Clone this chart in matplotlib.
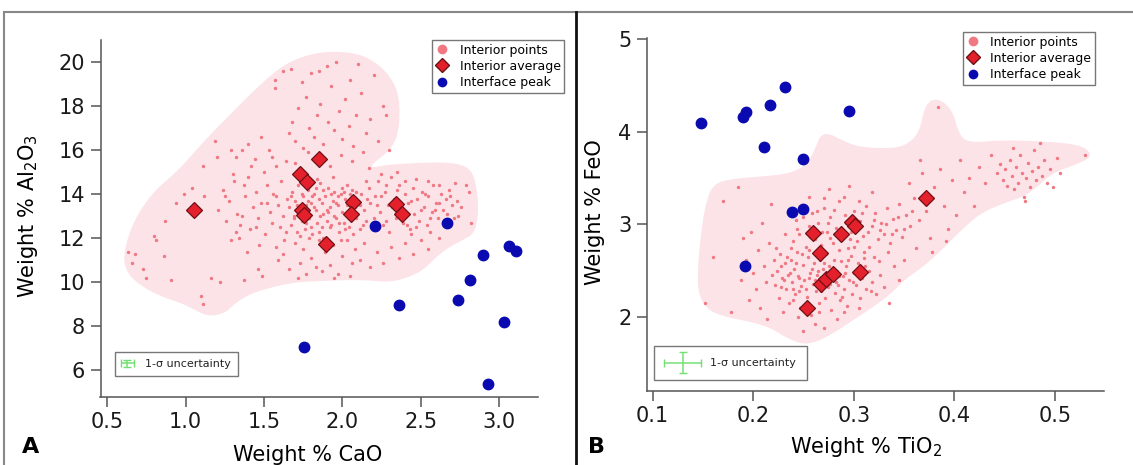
import numpy as np
import matplotlib
matplotlib.use('Agg')
import matplotlib.pyplot as plt
from matplotlib.lines import Line2D
from matplotlib.patches import Rectangle, Polygon

plt.rcParams['font.family'] = ['DejaVu Sans']
plt.rcParams['mathtext.default'] = 'regular'

# ---- Panel A: CaO vs Al2O3 ----
interior_a = [
    (0.63, 11.4), (0.66, 10.9), (0.68, 11.3), (0.73, 10.6), (0.75, 10.2), (0.80, 12.1), (0.81, 11.9),
    (0.86, 11.2), (0.87, 12.8), (0.91, 10.1), (0.94, 13.6), (0.99, 14.0), (1.04, 14.3), (1.11, 15.3),
    (1.12, 13.9), (1.10, 9.4), (1.11, 9.0), (1.16, 10.2), (1.19, 16.4), (1.20, 15.7), (1.22, 10.0),
    (1.29, 16.0), (1.32, 15.7), (1.36, 16.0), (1.37, 10.1), (1.29, 11.9), (1.32, 12.3), (1.34, 12.0),
    (1.37, 14.4), (1.40, 16.3), (1.42, 15.3), (1.48, 16.6), (1.46, 10.6), (1.49, 10.3), (1.57, 19.2),
    (1.57, 18.8), (1.62, 19.6), (1.58, 11.6), (1.59, 11.0), (1.53, 16.0), (1.55, 15.7),
    (1.21, 13.3), (1.24, 14.2), (1.26, 12.8), (1.28, 13.7), (1.31, 14.6), (1.33, 13.1), (1.35, 12.6),
    (1.38, 13.9), (1.40, 14.8), (1.41, 12.4), (1.43, 13.4), (1.45, 14.1), (1.46, 12.9), (1.48, 13.6),
    (1.50, 15.0), (1.51, 12.2), (1.52, 14.4), (1.54, 13.2), (1.55, 12.7), (1.56, 14.0), (1.58, 15.3),
    (1.59, 13.5), (1.60, 12.5), (1.61, 14.6), (1.62, 13.0), (1.63, 11.9), (1.64, 15.5), (1.65, 13.8),
    (1.47, 11.7), (1.39, 11.4), (1.30, 14.9), (1.44, 15.6), (1.36, 13.0), (1.25, 13.9),
    (1.66, 16.8), (1.68, 17.3), (1.70, 16.4), (1.72, 17.9), (1.74, 19.1), (1.75, 16.1), (1.77, 18.4),
    (1.79, 17.0), (1.80, 19.5), (1.82, 16.6), (1.84, 17.6), (1.86, 18.1), (1.88, 16.3), (1.90, 19.8),
    (1.91, 17.3), (1.93, 18.9), (1.95, 16.9), (1.96, 20.0), (1.98, 17.8), (2.00, 16.5), (2.02, 18.3),
    (2.04, 17.1), (2.05, 19.2), (2.07, 16.2), (2.09, 17.6), (2.12, 18.6), (2.15, 16.8), (2.18, 17.4),
    (2.20, 19.4), (2.23, 16.4), (2.26, 18.0), (2.28, 17.6), (2.30, 16.0), (1.70, 15.4), (1.78, 15.9),
    (1.92, 15.3), (1.99, 15.8), (2.06, 15.5), (2.13, 15.9), (2.17, 15.2), (1.67, 19.7), (1.85, 19.6),
    (2.10, 19.9),
    (1.66, 13.4), (1.67, 12.6), (1.68, 14.1), (1.69, 13.0), (1.70, 13.7), (1.71, 12.3), (1.72, 14.4),
    (1.73, 13.2), (1.74, 12.8), (1.75, 13.9), (1.76, 12.4), (1.77, 13.5), (1.78, 14.2), (1.79, 12.9),
    (1.80, 13.6), (1.81, 12.2), (1.82, 14.0), (1.83, 13.3), (1.84, 12.7), (1.85, 13.8), (1.86, 14.5),
    (1.87, 12.5), (1.88, 13.1), (1.89, 13.9), (1.90, 12.8), (1.91, 14.3), (1.92, 13.4), (1.93, 12.6),
    (1.94, 13.7), (1.95, 14.1), (1.96, 12.9), (1.97, 13.5), (1.98, 12.3), (1.99, 14.0), (2.00, 13.2),
    (2.01, 12.7), (2.02, 13.8), (2.03, 14.4), (2.04, 12.5), (2.05, 13.0), (2.06, 14.2), (2.07, 12.2),
    (2.08, 13.4), (2.09, 12.9), (2.10, 13.7), (1.71, 13.5), (1.76, 13.1), (1.81, 13.9), (1.86, 13.0),
    (1.91, 13.2), (1.96, 13.6), (2.01, 14.1), (1.84, 14.7), (1.94, 14.8), (1.79, 12.0),
    (2.11, 12.4), (2.12, 14.0), (2.14, 13.3), (2.15, 12.8), (2.17, 14.3), (2.18, 13.6), (2.20, 12.9),
    (2.21, 13.9), (2.23, 14.6), (2.24, 13.2), (2.26, 12.6), (2.27, 14.1), (2.29, 13.5), (2.30, 12.3),
    (2.31, 14.8), (2.33, 13.8), (2.34, 12.9), (2.36, 14.4), (2.37, 13.3), (2.39, 12.7), (2.40, 14.0),
    (2.42, 13.6), (2.43, 12.4), (2.45, 14.3), (2.46, 13.1), (2.48, 13.8), (2.49, 12.8), (2.51, 14.1),
    (2.52, 13.4), (2.54, 12.6), (2.55, 13.9), (2.57, 13.2), (2.58, 14.4), (2.60, 13.6), (2.61, 12.9),
    (2.63, 14.0), (2.64, 13.3), (2.66, 13.8), (2.68, 14.2), (2.70, 13.5), (2.72, 14.5), (2.74, 13.0),
    (2.79, 14.4), (2.81, 14.1), (2.82, 12.7), (2.25, 14.9), (2.35, 15.0), (2.47, 14.7), (2.56, 12.3),
    (2.44, 12.2),
    (1.62, 11.3), (1.66, 10.6), (1.70, 11.8), (1.73, 10.9), (1.75, 11.5), (1.77, 10.4), (1.80, 11.1),
    (1.83, 10.7), (1.85, 11.9), (1.87, 10.5), (1.89, 11.4), (1.92, 10.8), (1.94, 11.7), (1.97, 10.4),
    (2.00, 11.2), (2.03, 11.9), (2.06, 10.9), (2.08, 11.5), (2.11, 11.0), (2.14, 11.8), (2.18, 10.7),
    (2.22, 11.4), (2.26, 10.9), (2.31, 11.6), (2.36, 11.1), (2.40, 11.8), (2.45, 11.3), (2.50, 11.9),
    (2.55, 11.5), (2.62, 12.0), (2.05, 10.3), (1.95, 10.2), (1.72, 10.2),
    (1.67, 13.9), (1.69, 12.9), (1.72, 13.3), (1.74, 14.0), (1.77, 12.7), (1.78, 13.7), (1.80, 12.5),
    (1.82, 13.4), (1.83, 14.3), (1.85, 12.3), (1.87, 13.6), (1.88, 14.2), (1.90, 13.3), (1.92, 12.5),
    (1.93, 14.0), (1.95, 13.0), (1.97, 13.9), (1.98, 12.7), (2.00, 14.3), (2.02, 12.4), (2.03, 13.5),
    (2.05, 14.0), (2.07, 13.2), (2.09, 14.1), (2.11, 13.5), (2.13, 12.6), (2.16, 13.8), (2.19, 12.5),
    (2.22, 13.5), (2.25, 13.9), (2.28, 12.8), (2.32, 13.4), (2.35, 14.2), (2.38, 13.0), (2.41, 12.6),
    (2.44, 13.7), (2.47, 12.5), (2.50, 13.3), (2.53, 14.0), (2.56, 12.9), (2.59, 13.3), (2.62, 13.6),
    (2.65, 12.8), (2.67, 13.1), (2.69, 13.9), (2.71, 12.9), (2.73, 13.7), (2.76, 13.4), (2.62, 14.4),
    (2.55, 14.6), (2.40, 14.6), (2.28, 14.4), (2.15, 14.6), (1.73, 12.1), (1.88, 12.0), (1.99, 11.9),
    (1.64, 12.3), (1.58, 13.9), (1.52, 13.6), (1.45, 12.5),
]
avg_cao = [1.055, 1.854, 1.733, 1.772, 1.740, 1.756, 1.898, 2.067, 2.058, 2.346, 2.383]
avg_al2o3 = [13.30, 15.58, 14.94, 14.56, 13.30, 13.05, 11.74, 13.64, 13.08, 13.55, 13.12]
peak_cao = [2.211, 2.666, 3.063, 3.107, 2.898, 2.817, 2.738, 2.364, 3.035, 1.754, 2.929]
peak_al2o3 = [12.56, 12.68, 11.65, 11.42, 11.26, 10.09, 9.18, 8.98, 8.18, 7.05, 5.39]
# outline of the interior field
field_a = [
    (0.600, 11.2), (0.625, 10.42), (0.72, 9.81), (0.847, 9.35), (0.975, 9.05), (1.06, 8.75),
    (1.145, 8.45), (1.252, 8.6), (1.315, 9.05), (1.42, 9.51), (1.571, 9.81), (1.699, 10.0),
    (1.837, 10.05), (1.986, 10.1), (2.156, 10.1), (2.305, 10.0), (2.433, 10.26), (2.518, 10.57),
    (2.603, 11.17), (2.688, 11.63), (2.774, 11.93), (2.845, 12.24), (2.870, 13.15), (2.860, 14.2),
    (2.835, 14.96), (2.774, 15.34), (2.646, 15.45), (2.476, 15.42), (2.284, 15.34), (2.178, 15.19),
    (2.199, 15.42), (2.284, 15.87), (2.348, 16.48), (2.369, 17.54), (2.358, 18.6), (2.305, 19.35),
    (2.22, 19.96), (2.093, 20.42), (1.879, 20.49), (1.70, 20.15), (1.571, 19.58), (1.421, 18.6),
    (1.273, 17.54), (1.110, 16.35), (0.950, 15.05), (0.790, 14.10), (0.660, 12.70),
]
sigma_a = (0.628, 6.33, 0.043, 0.15)  # x, y, xerr, yerr

# ---- Panel B: TiO2 vs FeO ----
interior_b = [
    (0.152, 2.15), (0.160, 2.65), (0.170, 3.25), (0.178, 2.05), (0.185, 3.40), (0.188, 2.40),
    (0.190, 2.85), (0.193, 2.62), (0.196, 2.18), (0.198, 2.92), (0.200, 2.48), (0.203, 2.30),
    (0.205, 2.72), (0.207, 2.10), (0.209, 3.02), (0.211, 2.55), (0.213, 2.38), (0.214, 1.98),
    (0.216, 2.80), (0.218, 3.22), (0.219, 2.45), (0.221, 2.62),
    (0.222, 2.35), (0.224, 2.50), (0.226, 2.20), (0.227, 2.68), (0.229, 2.42), (0.230, 2.05),
    (0.232, 2.58), (0.233, 2.30), (0.235, 2.45), (0.236, 2.15), (0.238, 2.62), (0.239, 2.38),
    (0.241, 2.52), (0.242, 2.25), (0.244, 2.70), (0.245, 2.44), (0.247, 2.10), (0.248, 2.33),
    (0.250, 2.56), (0.251, 2.40), (0.253, 2.22), (0.254, 2.65), (0.256, 2.48), (0.257, 2.02),
    (0.259, 2.36), (0.260, 2.58), (0.262, 2.28), (0.263, 2.45), (0.265, 2.15), (0.266, 2.62),
    (0.268, 2.38), (0.269, 2.52), (0.271, 2.20), (0.272, 2.68), (0.274, 2.32), (0.275, 2.55),
    (0.277, 2.08), (0.278, 2.42), (0.280, 2.62), (0.281, 2.26), (0.283, 2.50), (0.284, 2.35),
    (0.286, 2.18), (0.287, 2.60), (0.289, 2.44), (0.290, 2.30), (0.292, 2.55), (0.293, 2.12),
    (0.295, 2.40), (0.297, 2.66), (0.298, 2.25), (0.300, 2.48), (0.302, 2.35), (0.304, 2.58),
    (0.306, 2.20), (0.308, 2.42), (0.310, 2.64), (0.312, 2.30), (0.315, 2.50), (0.318, 2.38),
    (0.322, 2.25), (0.326, 2.45), (0.330, 2.32), (0.228, 2.32), (0.237, 2.48), (0.246, 2.28),
    (0.255, 2.42), (0.264, 2.50), (0.273, 2.45), (0.282, 2.38), (0.291, 2.48), (0.261, 1.92),
    (0.270, 1.88), (0.283, 1.98), (0.250, 1.85),
    (0.240, 2.82), (0.243, 3.05), (0.246, 2.90), (0.249, 3.20), (0.252, 2.76), (0.255, 2.98),
    (0.258, 3.12), (0.261, 2.84), (0.264, 3.02), (0.267, 2.78), (0.270, 3.18), (0.273, 2.92),
    (0.276, 3.08), (0.279, 2.80), (0.282, 2.96), (0.285, 3.25), (0.288, 2.86), (0.291, 3.10),
    (0.294, 2.74), (0.297, 2.92), (0.300, 3.15), (0.303, 2.82), (0.306, 3.04), (0.309, 2.88),
    (0.312, 3.20), (0.315, 2.76), (0.318, 2.98), (0.321, 3.12), (0.324, 2.84), (0.327, 3.02),
    (0.330, 2.90), (0.333, 3.18), (0.336, 2.80), (0.339, 3.06), (0.342, 2.94), (0.345, 3.22),
    (0.348, 2.86), (0.352, 3.10), (0.356, 2.98), (0.360, 3.28), (0.365, 3.05), (0.255, 3.30),
    (0.275, 3.38), (0.295, 3.42), (0.318, 3.35), (0.262, 2.70), (0.285, 2.72), (0.310, 2.70),
    (0.334, 2.70), (0.340, 2.55), (0.345, 2.40), (0.335, 2.15), (0.350, 2.62), (0.325, 2.60),
    (0.355, 3.45), (0.362, 2.75), (0.368, 3.55), (0.372, 3.15), (0.376, 2.85), (0.380, 3.40),
    (0.384, 4.27), (0.386, 3.60), (0.390, 3.20), (0.394, 2.95), (0.398, 3.48), (0.402, 3.10),
    (0.406, 3.70), (0.410, 3.35), (0.415, 3.50), (0.420, 3.20), (0.425, 3.62), (0.430, 3.45),
    (0.436, 3.75), (0.366, 3.70), (0.378, 2.70), (0.392, 2.82),
    (0.442, 3.55), (0.445, 3.65), (0.448, 3.48), (0.450, 3.60), (0.452, 3.42), (0.455, 3.70),
    (0.457, 3.52), (0.459, 3.38), (0.461, 3.62), (0.463, 3.45), (0.465, 3.75), (0.467, 3.55),
    (0.469, 3.30), (0.471, 3.50), (0.473, 3.66), (0.475, 3.40), (0.477, 3.58), (0.479, 3.80),
    (0.481, 3.48), (0.483, 3.62), (0.485, 3.88), (0.487, 3.52), (0.489, 3.70), (0.492, 3.45),
    (0.495, 3.60), (0.498, 3.40), (0.502, 3.72), (0.505, 3.55), (0.530, 3.75), (0.470, 3.25),
    (0.458, 3.82),
    (0.228, 2.55), (0.231, 2.40), (0.234, 2.65), (0.240, 2.30), (0.243, 2.58), (0.246, 2.42),
    (0.249, 2.68), (0.252, 2.30), (0.258, 2.52), (0.261, 2.40), (0.267, 2.28), (0.270, 2.58),
    (0.276, 2.36), (0.279, 2.52), (0.285, 2.44), (0.288, 2.22), (0.294, 2.62), (0.299, 2.38),
    (0.305, 2.46), (0.311, 2.55), (0.317, 2.28), (0.244, 2.95), (0.250, 3.08), (0.256, 2.86),
    (0.263, 3.14), (0.268, 2.92), (0.274, 3.02), (0.280, 3.16), (0.286, 2.95), (0.292, 3.02),
    (0.296, 2.84), (0.302, 2.96), (0.308, 3.12), (0.314, 2.92), (0.320, 3.05), (0.326, 2.94),
    (0.332, 3.00), (0.338, 2.90), (0.344, 3.08), (0.350, 2.95), (0.358, 3.15), (0.290, 3.30),
    (0.305, 3.25), (0.270, 3.28), (0.232, 2.90), (0.238, 2.75), (0.223, 2.75), (0.255, 2.72),
    (0.300, 2.76), (0.320, 2.65), (0.276, 2.85), (0.265, 2.05), (0.245, 2.00), (0.290, 2.05),
    (0.305, 2.10), (0.240, 2.18),
]
avg_tio2 = [0.259, 0.287, 0.298, 0.301, 0.266, 0.267, 0.272, 0.279, 0.306, 0.253, 0.372]
avg_feo = [2.91, 2.90, 3.03, 2.98, 2.69, 2.36, 2.41, 2.46, 2.49, 2.10, 3.29]
peak_tio2 = [0.148, 0.190, 0.193, 0.217, 0.232, 0.295, 0.211, 0.250, 0.239, 0.250, 0.192]
peak_feo = [4.09, 4.16, 4.21, 4.29, 4.48, 4.23, 3.84, 3.71, 3.13, 3.17, 2.55]
field_b = [
    (0.145, 2.26), (0.145, 2.54), (0.148, 2.90), (0.152, 3.19), (0.160, 3.45), (0.186, 3.50),
    (0.211, 3.52), (0.236, 3.55), (0.253, 3.64), (0.261, 3.80), (0.266, 3.95), (0.274, 3.99),
    (0.290, 3.90), (0.304, 3.84), (0.329, 3.82), (0.350, 3.84), (0.365, 3.98), (0.371, 4.30),
    (0.383, 4.37), (0.398, 4.24), (0.404, 3.99), (0.413, 3.88), (0.447, 3.91), (0.483, 3.90),
    (0.519, 3.87), (0.533, 3.81), (0.536, 3.72), (0.519, 3.64), (0.497, 3.55), (0.483, 3.41),
    (0.469, 3.30), (0.447, 3.22), (0.426, 3.12), (0.408, 2.95), (0.390, 2.75), (0.370, 2.55),
    (0.350, 2.40), (0.336, 2.24), (0.318, 2.10), (0.300, 1.97), (0.282, 1.84), (0.265, 1.74),
    (0.250, 1.70), (0.232, 1.78), (0.218, 1.88), (0.197, 1.95), (0.172, 2.00), (0.154, 2.08),
]
sigma_b = (0.1297, 1.508, 0.0186, 0.117)

labels = ['Interior points', 'Interior average', 'Interface peak']
pink = '#f07882'
field_col = '#fce3e8'
red = '#e3202c'
dark_red = '#6e1015'
blue = '#0a0ab0'
green = '#74e074'


def smooth(pts, n=4):
    p = np.asarray(pts, float)
    for _ in range(n):
        q = np.roll(p, -1, axis=0)
        out = np.empty((2 * len(p), 2))
        out[0::2] = 0.75 * p + 0.25 * q
        out[1::2] = 0.25 * p + 0.75 * q
        p = out
    return p


def style(ax):
    for s in ('top', 'right'):
        ax.spines[s].set_visible(False)
    for s in ('left', 'bottom'):
        ax.spines[s].set_color('#555555')
        ax.spines[s].set_linewidth(1.1)
    ax.tick_params(direction='out', length=7, width=1.1, color='#555555',
                   labelsize=15, pad=4, labelcolor='#1a1a1a')


def draw(ax, field, pts, ax_x, ax_y, pk_x, pk_y, sig, leg_xy, box, text_xy):
    ax.add_patch(Polygon(smooth(field), closed=True, facecolor=field_col,
                         edgecolor='none', zorder=1))
    p = np.array(pts)
    ax.scatter(p[:, 0], p[:, 1], s=6, color=pink, linewidths=0, zorder=2)
    ax.plot(ax_x, ax_y, ls='none', marker='D', ms=8, mfc=red, mec=dark_red,
            mew=0.9, zorder=3)
    ax.plot(pk_x, pk_y, ls='none', marker='o', ms=7.5, color=blue, zorder=4)
    ax.errorbar([sig[0]], [sig[1]], xerr=[sig[2]], yerr=[sig[3]], fmt='none',
                ecolor=green, elinewidth=1.1, capsize=3, zorder=5)
    ax.add_patch(Rectangle((box[0], box[1]), box[2] - box[0], box[3] - box[1],
                           transform=ax.transAxes, fill=False, edgecolor='#777777',
                           lw=1.0, clip_on=False, zorder=4))
    ax.text(text_xy[0], text_xy[1], '1-σ uncertainty', transform=ax.transAxes,
            fontsize=8, va='center', ha='left', color='#222222')
    handles = [
        Line2D([], [], ls='none', marker='o', ms=7, mfc=pink, mec='none'),
        Line2D([], [], ls='none', marker='D', ms=7.5, mfc=red, mec=dark_red),
        Line2D([], [], ls='none', marker='o', ms=7, mfc=blue, mec='none'),
    ]
    leg = ax.legend(handles, labels, loc='upper left', bbox_to_anchor=leg_xy,
                    bbox_transform=fig.transFigure, fancybox=False, framealpha=1,
                    edgecolor='#777777', fontsize=9, handlelength=1.0,
                    handletextpad=0.9, labelspacing=0.25, borderpad=0.3,
                    borderaxespad=0)
    leg.get_frame().set_linewidth(1.0)
    style(ax)


fig = plt.figure(figsize=(11.33, 4.65), dpi=100)
W, H = 1133.0, 465.0
axA = fig.add_axes([100.5 / W, 1 - 396.7 / H, 437 / W, 356.7 / H])
axB = fig.add_axes([646.6 / W, 1 - 390.7 / H, 457.6 / W, 352.4 / H])

draw(axA, field_a, interior_a, avg_cao, avg_al2o3, peak_cao, peak_al2o3, sigma_a,
     (432 / W, 1 - 40 / H), (0.033, 0.058, 0.315, 0.125), (0.102, 0.092))
axA.set_xlim(0.457, 3.246)
axA.set_ylim(4.81, 21.0)
axA.set_xticks([0.5, 1.0, 1.5, 2.0, 2.5, 3.0])
axA.set_xticklabels(['0.5', '1.0', '1.5', '2.0', '2.5', '3.0'])
axA.set_yticks([6, 8, 10, 12, 14, 16, 18, 20])
axA.set_xlabel('Weight % CaO', fontsize=15)
axA.set_ylabel('Weight % Al$_2$O$_3$', fontsize=15)
axA.xaxis.set_label_coords(0.475, -0.163)
axA.yaxis.set_label_coords(-0.166, 0.507)
axA.xaxis.label.set_va('center')
axA.yaxis.label.set_va('center')

draw(axB, field_b, interior_b, avg_tio2, avg_feo, peak_tio2, peak_feo, sigma_b,
     (963 / W, 1 - 32 / H), (0.017, 0.030, 0.350, 0.128), (0.139, 0.080))
axB.set_xlim(0.094, 0.549)
axB.set_ylim(1.204, 5.01)
axB.set_xticks([0.1, 0.2, 0.3, 0.4, 0.5])
axB.set_yticks([2, 3, 4, 5])
axB.set_xlabel('Weight % TiO$_2$', fontsize=15)
axB.set_ylabel('Weight % FeO', fontsize=15)
axB.xaxis.set_label_coords(0.48, -0.16)
axB.yaxis.set_label_coords(-0.113, 0.507)
axB.xaxis.label.set_va('center')
axB.yaxis.label.set_va('center')

# panel frames and letters
fig.add_artist(Line2D([4 / W, 1], [1 - 12 / H] * 2, transform=fig.transFigure,
                      color='#888888', lw=1.5))
fig.add_artist(Line2D([4 / W] * 2, [0, 1 - 12 / H], transform=fig.transFigure,
                      color='#888888', lw=1.5))
fig.add_artist(Line2D([576 / W] * 2, [0, 1 - 12 / H], transform=fig.transFigure,
                      color='#111111', lw=2.0, zorder=10))
fig.text(31 / W, 1 - 447 / H, 'A', fontsize=16, fontweight='bold', ha='center', va='center')
fig.text(597 / W, 1 - 447 / H, 'B', fontsize=16, fontweight='bold', ha='center', va='center')

fig.savefig('out.png', dpi=100)
